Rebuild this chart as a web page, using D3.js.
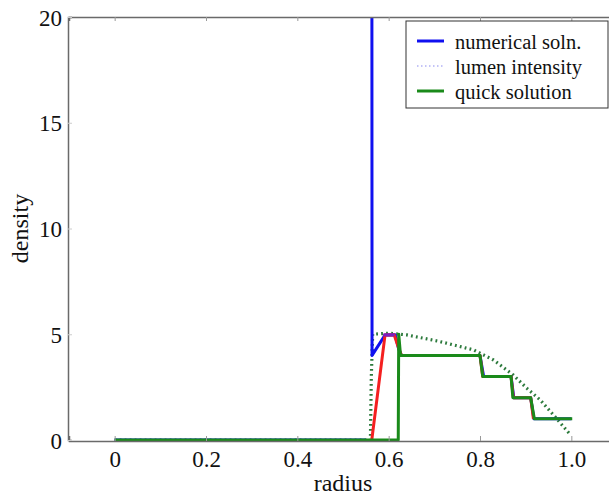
<!DOCTYPE html>
<html>
<head>
<meta charset="utf-8">
<script src="https://cdn.jsdelivr.net/npm/d3@7"></script>
<style>
  body { margin: 0; background: #fff; }
  svg { display: block; overflow: hidden; }
  text { font-family: "Liberation Serif", "DejaVu Serif", serif; fill: #111; }
</style>
</head>
<body>
<div id="chart"></div>
<script>
// 数值解（蓝），null 断开
const numR   = [0, 0.55, null, 0.5632, 0.5636, 0.592, 0.614, 0.622, 0.628, 0.800, 0.808, 0.868, 0.874, 0.911, 0.918, 1.0];
const numVal = [0, 0,    null, 25,     4.0,    4.96,  4.98,  4.3,   4.0,   4.0,   3.0,   3.0,   2.0,   2.0,   1.0,   1.0];

// 红线（无图例）
const redR   = [0.563, 0.592, 0.612, 0.621, 0.628, 0.800, 0.806, 0.868, 0.873, 0.911, 0.917];
const redVal = [0,     4.96,  4.98,  4.4,   4.0,   4.0,   3.0,   3.0,   2.0,   2.0,   1.0];

// lumen intensity（点线）
const lumR   = [0, 0.560, 0.562, 0.565, 0.600, 0.640, 0.713, 0.786, 0.830, 0.873, 0.903, 0.932, 0.961, 0.998];
const lumVal = [0, 0,     3.0,   5.0,   5.05,  4.97,  4.65,  4.26,  3.78,  3.07,  2.44,  1.89,  1.18,  0.25];

// quick solution（绿）
const quickR   = [0, 0.621, 0.622, 0.626, 0.800, 0.806, 0.868, 0.872, 0.911, 0.919, 1.002];
const quickVal = [0, 0,     5.0,   4.0,   4.0,   3.0,   3.0,   2.0,   2.0,   1.0,   1.0];

const xTicks = [0, 0.2, 0.4, 0.6, 0.8, 1.0];
const yTicks = [0, 5, 10, 15, 20];

const legendItems = [
  { name: 'numerical soln.', color: '#1010f0', width: 3, dash: null },
  { name: 'lumen intensity', color: '#8a8af0', width: 1.2, dash: '1.5 2.5' },
  { name: 'quick solution', color: '#1a8a1a', width: 3, dash: null }
];

const W = 609, H = 496;
const margin = { left: 68, top: 17, right: 617, bottom: 441 };   // 右边被裁掉

const svg = d3.select('#chart').append('svg')
  .attr('width', W).attr('height', H);

const x = d3.scaleLinear().domain([-0.1, 1.1]).range([margin.left + 1, margin.right]);
const y = d3.scaleLinear().domain([0, 20]).range([margin.bottom - 1, margin.top]);

svg.append('clipPath').attr('id', 'clip')
  .append('rect')
  .attr('x', margin.left).attr('y', margin.top)
  .attr('width', margin.right - margin.left).attr('height', margin.bottom - margin.top + 2);

const zip = (a, b) => a.map((r, i) => [r, b[i]]);
const line = d3.line()
  .defined(d => d[0] !== null)
  .x(d => x(d[0]))
  .y(d => y(d[1]));

const plot = svg.append('g').attr('clip-path', 'url(#clip)');

// 点线
plot.append('path')
  .attr('d', line(zip(lumR, lumVal)))
  .attr('fill', 'none')
  .attr('stroke', '#2c7a3c')
  .attr('stroke-width', 3.2)
  .attr('stroke-dasharray', '1.8 3.2');

plot.append('path')
  .attr('d', line(zip(numR, numVal)))
  .attr('fill', 'none')
  .attr('stroke', '#1010f0')
  .attr('stroke-width', 3)
  .attr('stroke-linejoin', 'round');

plot.append('path')
  .attr('d', line(zip(redR, redVal)))
  .attr('fill', 'none')
  .attr('stroke', '#f42020')
  .attr('stroke-width', 3)
  .attr('stroke-linejoin', 'round');

// 顶部平台紫色（蓝红叠加）
plot.append('path')
  .attr('d', line([[0.588, 4.97], [0.613, 4.98]]))
  .attr('fill', 'none')
  .attr('stroke', '#7a20c0')
  .attr('stroke-width', 3);

plot.append('path')
  .attr('d', line(zip(quickR, quickVal)))
  .attr('fill', 'none')
  .attr('stroke', '#1a8a1a')
  .attr('stroke-width', 3)
  .attr('stroke-linejoin', 'round');

// 坐标轴
const axisColor = '#6a6a6a';
const gx = svg.append('g').attr('transform', `translate(0,${margin.bottom})`)
  .call(d3.axisBottom(x).tickValues(xTicks).tickSize(-5).tickPadding(10)
    .tickFormat(d => d === 0 ? '0' : d3.format('.1f')(d)));
const gxTop = svg.append('g').attr('transform', `translate(0,${margin.top})`)
  .call(d3.axisTop(x).tickValues(xTicks).tickSize(-4).tickFormat(''));
const gy = svg.append('g').attr('transform', `translate(${margin.left},0)`)
  .call(d3.axisLeft(y).tickValues(yTicks).tickSize(-4).tickPadding(6));

[gx, gxTop, gy].forEach(g => {
  g.select('.domain').attr('stroke', axisColor).attr('stroke-width', 1.5);
  g.selectAll('.tick line').attr('stroke', '#999');
  g.selectAll('.tick text')
    .style('font-family', '"Liberation Serif", serif')
    .style('font-size', '23px')
    .attr('fill', '#111');
});
gy.selectAll('.tick line').attr('stroke', '#ccc');
gy.selectAll('.tick text').attr('dy', '0.35em');

svg.append('text')
  .attr('x', (x(0) + x(1)) / 2)
  .attr('y', 491)
  .attr('text-anchor', 'middle')
  .style('font-size', '24px')
  .text('radius');

svg.append('text')
  .attr('transform', `translate(28,${y(10)}) rotate(-90)`)
  .attr('text-anchor', 'middle')
  .style('font-size', '24px')
  .text('density');

// 图例
const lg = svg.append('g');
lg.append('rect')
  .attr('x', 406).attr('y', 21)
  .attr('width', 202).attr('height', 87)
  .attr('fill', '#fff')
  .attr('stroke', '#333').attr('stroke-width', 1);

const rows = lg.selectAll('.row')
  .data(legendItems)
  .enter().append('g')
  .attr('transform', (d, i) => `translate(0,${41 + i * 25})`);

rows.append('line')
  .attr('x1', 417).attr('x2', 444)
  .attr('y1', 0).attr('y2', 0)
  .attr('stroke', d => d.color)
  .attr('stroke-width', d => d.width)
  .attr('stroke-dasharray', d => d.dash);

rows.append('text')
  .attr('x', 455).attr('y', 8)
  .style('font-size', '20.5px')
  .text(d => d.name);
</script>
</body>
</html>
